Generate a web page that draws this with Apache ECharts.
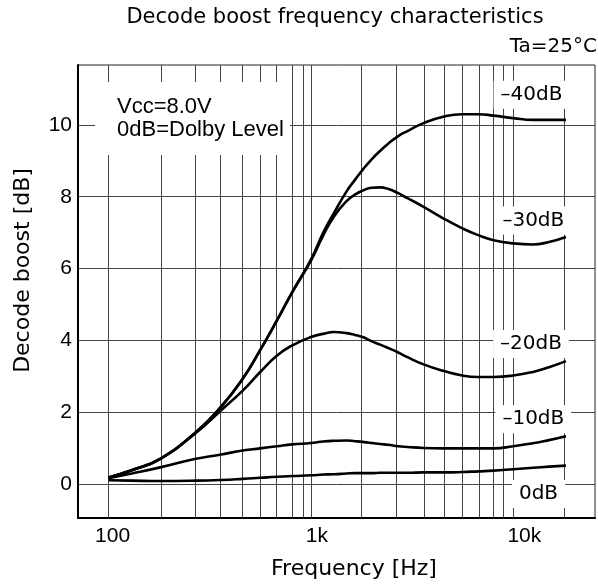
<!DOCTYPE html>
<html>
<head>
<meta charset="utf-8">
<script src="https://cdn.jsdelivr.net/npm/echarts@6/dist/echarts.min.js"></script>
<style>html,body{margin:0;padding:0;background:#fff}#c{width:598px;height:588px}</style>
</head>
<body>
<div id="c"></div>
<script>
// ---- data ----
const freqHz = [100, 130, 180, 270, 360, 460, 560, 680, 810, 1000, 1150, 1300, 1500, 1650, 1800, 2000, 2200, 2400, 2700, 3000, 3600, 4500, 5600, 6700, 8000, 10000, 12500, 15000, 18200];
const boostM40 = [0.18, 0.38, 0.70, 1.44, 2.15, 2.93, 3.72, 4.56, 5.35, 6.25, 7.00, 7.55, 8.15, 8.47, 8.75, 9.05, 9.28, 9.47, 9.69, 9.83, 10.05, 10.23, 10.30, 10.30, 10.26, 10.19, 10.14, 10.14, 10.14];
const boostM30 = [0.18, 0.38, 0.70, 1.44, 2.15, 2.93, 3.72, 4.56, 5.35, 6.22, 6.92, 7.45, 7.88, 8.06, 8.17, 8.25, 8.26, 8.22, 8.10, 7.96, 7.72, 7.40, 7.12, 6.93, 6.79, 6.70, 6.67, 6.74, 6.88];
const boostM20 = [0.18, 0.38, 0.70, 1.42, 2.05, 2.60, 3.11, 3.58, 3.86, 4.09, 4.18, 4.23, 4.20, 4.15, 4.09, 3.97, 3.88, 3.79, 3.66, 3.53, 3.33, 3.15, 3.02, 2.98, 2.98, 3.02, 3.12, 3.25, 3.42];
const boostM10 = [0.16, 0.29, 0.46, 0.70, 0.82, 0.93, 0.99, 1.05, 1.10, 1.14, 1.18, 1.20, 1.21, 1.19, 1.17, 1.14, 1.11, 1.09, 1.05, 1.03, 1.00, 0.99, 0.99, 0.99, 0.99, 1.05, 1.13, 1.22, 1.33];
const boost0 = [0.10, 0.09, 0.08, 0.09, 0.11, 0.14, 0.17, 0.20, 0.22, 0.24, 0.26, 0.27, 0.29, 0.30, 0.30, 0.30, 0.31, 0.31, 0.31, 0.31, 0.32, 0.32, 0.33, 0.35, 0.37, 0.41, 0.45, 0.48, 0.51];
const seriesNames = ['–40dB', '–30dB', '–20dB', '–10dB', '0dB'];
const seriesValues = [boostM40, boostM30, boostM20, boostM10, boost0];
const labelHz = [12300, 12560, 12230, 12560, 13320];
const labelDb = [10.84, 7.34, 3.90, 1.80, -0.28];
const xTickHz = [100, 1000, 10000];
const xTickText = ['100', '1k', '10k'];
const yTicks = [0, 2, 4, 6, 8, 10];
const gridHz = [100, 180, 269, 356, 459, 559, 681, 810, 902, 1000, 1784, 2656, 3623, 4548, 5562, 6770, 7963, 8925, 10000, 17650];
const xRangeHz = [70.6, 25330];
const yRange = [-0.95, 11.67];
const titleText = 'Decode boost frequency characteristics';
const condText = 'Ta=25°C';
const noteLines = ['Vcc=8.0V', '0dB=Dolby Level'];
const xName = 'Frequency [Hz]';
const yName = 'Decode boost [dB]';

// ---- chart ----
const lg = Math.log10;
const chart = echarts.init(document.getElementById('c'), null, {renderer: 'canvas'});
const WORD = '"DejaVu Sans"';
const NUM = '"Liberation Sans"';
const labelPads = [8, 12, 22];

const curves = seriesNames.map((name, i) => ({
  name: name,
  type: 'line',
  z: 5,
  smooth: 0.5,
  showSymbol: false,
  silent: true,
  lineStyle: {color: '#000', width: 2.6},
  data: freqHz.map((f, k) => [lg(f), seriesValues[i][k]]),
  markPoint: {
    z: 8,
    symbol: 'rect',
    symbolSize: 1,
    itemStyle: {color: 'rgba(0,0,0,0)'},
    label: {
      show: true, position: 'inside', formatter: name,
      color: '#000', fontFamily: WORD, fontSize: 20,
      backgroundColor: '#fff', padding: [5, 7, 3, 7]
    },
    data: [{coord: [lg(labelHz[i]), labelDb[i]]}]
  }
}));

const gridSeries = {
  type: 'line', z: 1, data: [], silent: true,
  markLine: {
    z: 1,
    silent: true, symbol: 'none', animation: false,
    label: {show: false},
    lineStyle: {color: '#444', width: 1, type: 'solid'},
    data: gridHz.map(h => ({xAxis: lg(h)})).concat(yTicks.map(v => ({yAxis: v})))
  }
};

chart.setOption({
  animation: false,
  backgroundColor: '#fff',
  title: [
    {text: titleText, left: 335, top: 7, textAlign: 'center', padding: 0,
     textStyle: {fontFamily: WORD, fontSize: 21, fontWeight: 'normal', color: '#000'}},
    {text: condText, right: 1, top: 37, padding: 0,
     textStyle: {fontFamily: WORD, fontSize: 20, fontWeight: 'normal', color: '#000'}}
  ],
  grid: {left: 78, right: 3, top: 65, bottom: 70, show: true, borderColor: '#222', borderWidth: 1, backgroundColor: 'transparent'},
  xAxis: {
    type: 'value', min: lg(xRangeHz[0]), max: lg(xRangeHz[1]),
    name: xName, nameLocation: 'middle', nameGap: 40,
    nameTextStyle: {fontFamily: WORD, fontSize: 22, color: '#000', padding: [0, 0, 0, 35]},
    axisLine: {show: true, onZero: false, lineStyle: {color: '#000', width: 2}},
    axisTick: {show: false},
    splitLine: {show: false},
    axisLabel: {
      customValues: xTickHz.map(lg), margin: 8,
      formatter: (v) => {
        const i = xTickHz.findIndex(h => Math.abs(lg(h) - v) < 1e-6);
        return i < 0 ? '' : '{t' + i + '|' + xTickText[i] + '}';
      },
      rich: {
        t0: {fontFamily: NUM, fontSize: 21, color: '#000', padding: [0, 0, 0, labelPads[0]]},
        t1: {fontFamily: NUM, fontSize: 21, color: '#000', padding: [0, 0, 0, labelPads[1]]},
        t2: {fontFamily: NUM, fontSize: 21, color: '#000', padding: [0, 0, 0, labelPads[2]]}
      }
    }
  },
  yAxis: {
    type: 'value', min: yRange[0], max: yRange[1],
    name: yName, nameLocation: 'middle', nameRotate: 90, nameGap: 44,
    nameTextStyle: {fontFamily: WORD, fontSize: 22, color: '#000', padding: [0, 0, 0, 42]},
    axisLine: {show: true, onZero: false, lineStyle: {color: '#000', width: 2}},
    axisTick: {show: false},
    splitLine: {show: false},
    axisLabel: {customValues: yTicks, margin: 6, fontFamily: NUM, fontSize: 21, color: '#000'}
  },
  graphic: [
    {type: 'rect', z: 20, shape: {x: 95, y: 82, width: 195, height: 73}, style: {fill: '#fff'}},
    {type: 'text', z: 21, x: 117, y: 95,
     style: {text: noteLines.join('\n'), fontFamily: NUM, fontSize: 22, lineHeight: 23.5, fill: '#000'}}
  ],
  series: [gridSeries].concat(curves)
});
</script>
</body>
</html>
